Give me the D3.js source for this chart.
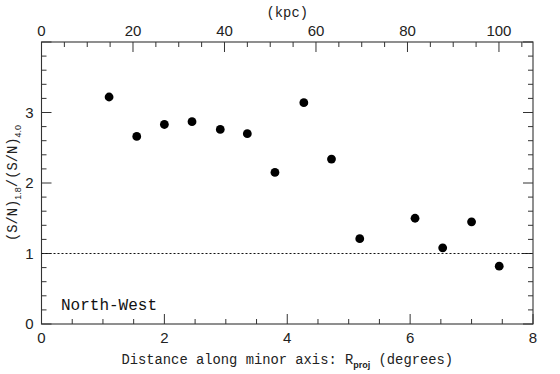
<!DOCTYPE html>
<html><head><meta charset="utf-8">
<script src="https://cdn.jsdelivr.net/npm/d3@7"></script>
<style>body{margin:0;background:#fff}svg{display:block}</style>
</head><body>
<svg id="c" width="560" height="374"></svg>
<script>
const rproj = [1.10,1.55,2.00,2.45,2.91,3.35,3.80,4.27,4.72,5.18,6.08,6.53,7.00,7.45];
const ratio = [3.22,2.66,2.83,2.87,2.76,2.70,2.15,3.14,2.34,1.21,1.50,1.08,1.45,0.82];
const xTicks = [0,2,4,6,8];
const yTicks = [0,1,2,3];
const kpcTicks = [0,20,40,60,80,100];
const kpcPerDeg = 13.43;
const refLine = 1;
const panelLabel = "North-West";

const svg = d3.select("#c");
const L=41.5, R=533, T=42, B=324;
const x = d3.scaleLinear().domain([0,8]).range([L,R]);
const y = d3.scaleLinear().domain([0,4]).range([B,T]);
const xk = d3.scaleLinear().domain([0,8*kpcPerDeg]).range([L,R]);
const axCol="#333";
const tickFont="'Liberation Sans', Arial, sans-serif";
const monoFont="'Liberation Mono', 'DejaVu Sans Mono', monospace";

// frame
svg.append("rect").attr("x",L).attr("y",T).attr("width",R-L).attr("height",B-T)
  .attr("fill","none").attr("stroke",axCol).attr("stroke-width",1.1);

const g = svg.append("g").attr("stroke",axCol).attr("stroke-width",1);
d3.range(0,8.001,0.5).forEach(v=>{
  const major = Math.abs(v-Math.round(v/2)*2)<1e-6;
  const len = major?10:5;
  g.append("line").attr("x1",x(v)).attr("x2",x(v)).attr("y1",B).attr("y2",B-len);
});
d3.range(0,8*kpcPerDeg,5).forEach(v=>{
  const major = v%20===0;
  const len = major?10:5;
  g.append("line").attr("x1",xk(v)).attr("x2",xk(v)).attr("y1",T).attr("y2",T+len);
});
d3.range(0,4.001,0.2).forEach(v=>{
  const major = Math.abs(v-Math.round(v))<1e-6;
  const len = major?10:5;
  g.append("line").attr("x1",L).attr("x2",L+len).attr("y1",y(v)).attr("y2",y(v));
  g.append("line").attr("x1",R).attr("x2",R-len).attr("y1",y(v)).attr("y2",y(v));
});

svg.selectAll(".xt").data(xTicks).join("text").attr("x",d=>x(d)).attr("y",B+19)
  .attr("text-anchor","middle").attr("font-family",tickFont).attr("font-size",15).attr("fill","#222").text(d=>d);
svg.selectAll(".kt").data(kpcTicks).join("text").attr("x",d=>xk(d)).attr("y",T-6)
  .attr("text-anchor","middle").attr("font-family",tickFont).attr("font-size",15).attr("fill","#222").text(d=>d);
svg.selectAll(".yt").data(yTicks).join("text").attr("x",L-8).attr("y",d=>y(d)+5)
  .attr("text-anchor","end").attr("font-family",tickFont).attr("font-size",15).attr("fill","#222").text(d=>d);

const xt = svg.append("text").attr("x",(L+R)/2).attr("y",364).attr("text-anchor","middle")
  .attr("font-family",monoFont).attr("font-size",13.8).attr("fill","#222");
xt.append("tspan").text("Distance along minor axis: R");
xt.append("tspan").attr("dy",4).attr("font-size",9).attr("font-weight","bold").attr("font-family",tickFont).text("proj");
xt.append("tspan").attr("dy",-4).text(" (degrees)");

svg.append("text").attr("x",(L+R)/2).attr("y",17).attr("text-anchor","middle")
  .attr("font-family",monoFont).attr("font-size",13.8).attr("fill","#222").text("(kpc)");

const yl = svg.append("text").attr("transform",`translate(17,${(T+B)/2}) rotate(-90)`).attr("text-anchor","middle")
  .attr("font-family",monoFont).attr("font-size",13.8).attr("fill","#222");
yl.append("tspan").text("(S/N)");
yl.append("tspan").attr("dy",4).attr("font-size",9).attr("font-family",tickFont).text("1.8");
yl.append("tspan").attr("dy",-4).text("/(S/N)");
yl.append("tspan").attr("dy",4).attr("font-size",9).attr("font-family",tickFont).text("4.0");

svg.append("line").attr("x1",L).attr("x2",R).attr("y1",y(refLine)).attr("y2",y(refLine))
  .attr("stroke","#111").attr("stroke-width",1).attr("stroke-dasharray","2,2");

svg.selectAll(".pt").data(rproj.map((d,i)=>[d,ratio[i]])).join("circle")
  .attr("cx",d=>x(d[0])).attr("cy",d=>y(d[1])).attr("r",4.4).attr("fill","#000");

svg.append("text").attr("x",61).attr("y",310).attr("font-family",monoFont).attr("font-size",16)
  .attr("fill","#111").text(panelLabel);
</script>
</body></html>
